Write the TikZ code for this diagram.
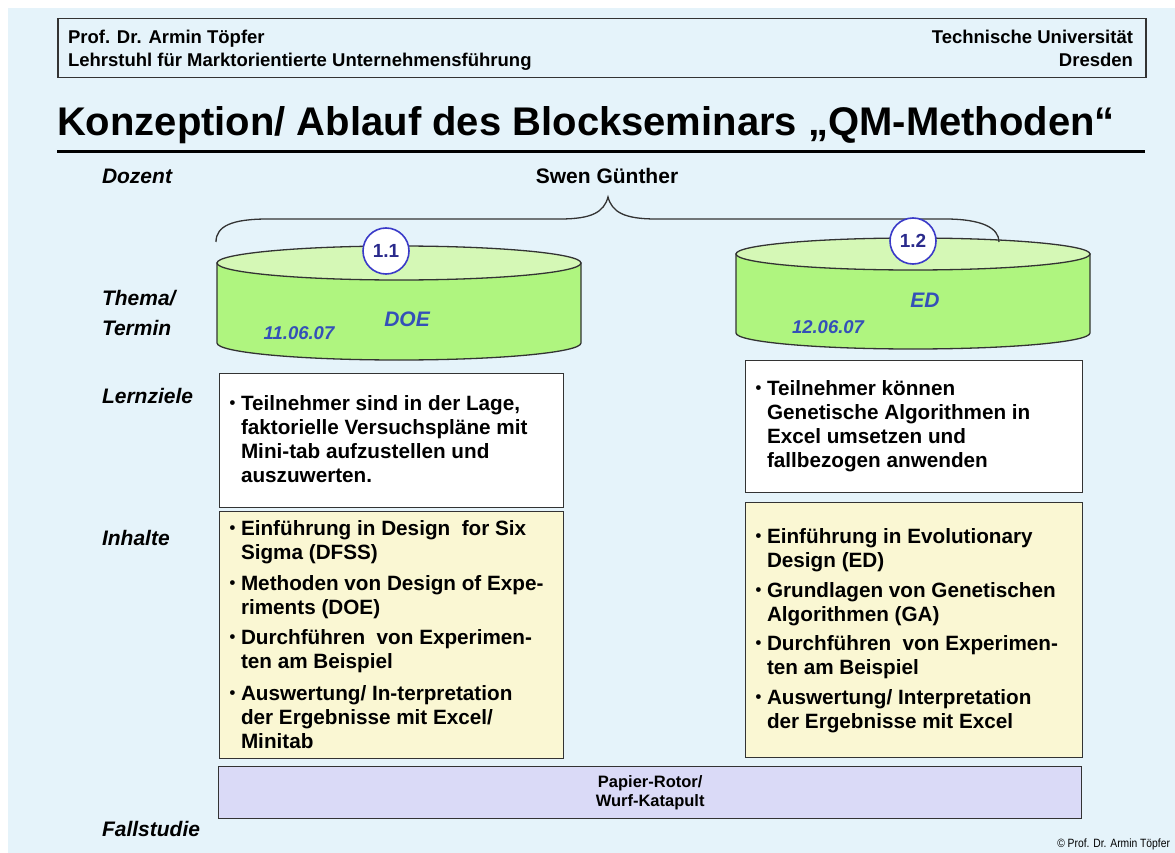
\documentclass[tikz,border=0pt]{standalone}
\usepackage{fontspec}
\setmainfont{Liberation Sans}
\definecolor{bgblue}{HTML}{E5F3FA}
\definecolor{cylbody}{HTML}{AFF57F}
\definecolor{cyltop}{HTML}{D5F8B6}
\definecolor{circblue}{HTML}{3A3AC8}
\definecolor{numblue}{HTML}{2A2A8C}
\definecolor{topicblue}{HTML}{3450B8}
\definecolor{boxyellow}{HTML}{FAF7D3}
\definecolor{boxlav}{HTML}{DADAF7}
\definecolor{linegray}{HTML}{333333}
\newcommand{\smbul}{\hspace{0.5pt}\raisebox{1.2pt}{\fontsize{16.5}{16.5}\selectfont\textbullet}}
\begin{document}
\begin{tikzpicture}[x=1pt,y=-1pt,
  txt/.style={inner sep=0pt, outer sep=0pt},
  hdr/.style={txt, font=\fontsize{18.5}{22}\bfseries\selectfont},
  rowlabel/.style={txt, anchor=base west, font=\fontsize{21}{25}\bfseries\itshape\selectfont},
  boxtext/.style={txt, anchor=base west, font=\fontsize{20.7}{24}\bfseries\selectfont},
  panel/.style={draw=linegray, line width=1.3pt, anchor=north west, inner sep=0pt},
  topic/.style={txt, text=topicblue, font=\fontsize{21}{25}\bfseries\itshape\selectfont},
  datum/.style={txt, text=topicblue, font=\fontsize{18.5}{22}\bfseries\itshape\selectfont},
  numcirc/.style={circle, draw=circblue, line width=1.6pt, fill=white, minimum size=46pt, inner sep=0pt, text=numblue, font=\fontsize{19}{21}\bfseries\selectfont},
  cyl/.style={draw=linegray, line width=1.3pt},
]
\useasboundingbox (0,0) rectangle (1175,853);
% background
\fill[white] (0,0) rectangle (1175,853);
\fill[bgblue] (8,8) rectangle (1175,853);

% header
\node[draw=linegray, line width=1.5pt, anchor=north west, minimum width=1088pt, minimum height=59pt, inner sep=0pt] (hbox) at (57,18) {};
\node[hdr, anchor=base west] (h1) at (68,44) {Prof. Dr. Armin Töpfer};
\node[hdr, anchor=base west] (h2) at (68,67) {Lehrstuhl für Marktorientierte Unternehmensführung};
\node[hdr, anchor=base east] (h3) at (1133,44) {Technische Universität};
\node[hdr, anchor=base east] (h4) at (1133,67) {Dresden};

% title
\node[txt, anchor=base west, font=\fontsize{40}{44}\bfseries\selectfont] (title) at (57,136) {Konzeption/ Ablauf des Blockseminars „QM-Methoden“};
\coordinate (ul1) at (57,152);
\coordinate (ul2) at (1145,152);
\draw[line width=3pt] (ul1) -- (ul2);

% row labels
\node[rowlabel] (lDozent) at (102,184) {Dozent};
\node[rowlabel] (lThema) at (102,305) {Thema/};
\node[rowlabel] (lTermin) at (102,335) {Termin};
\node[rowlabel] (lLern) at (102,403) {Lernziele};
\node[rowlabel] (lInh) at (102,545) {Inhalte};
\node[rowlabel] (lFall) at (102,836) {Fallstudie};

\node[txt, anchor=base, font=\fontsize{21}{25}\bfseries\selectfont] (swen) at (607,184) {Swen Günther};

% cylinder 1
\path[cyl, fill=cylbody] (217,263) -- (217,343)
  arc[start angle=180, end angle=360, x radius=182pt, y radius=17pt] -- (581,263) -- cycle;
\draw[cyl, fill=cyltop] (399,263) ellipse [x radius=182pt, y radius=17pt];
% cylinder 2
\path[cyl, fill=cylbody] (736,254) -- (736,333)
  arc[start angle=180, end angle=360, x radius=177pt, y radius=16pt] -- (1090,254) -- cycle;
\draw[cyl, fill=cyltop] (913,254) ellipse [x radius=177pt, y radius=16pt];

\node[topic] (doe) at (407,319) {DOE};
\node[datum] (d1) at (299,333) {11.06.07};
\node[topic] (ed) at (925,300) {ED};
\node[datum] (d2) at (828,327) {12.06.07};

% brace
\coordinate (bl) at (216,242);
\coordinate (bp) at (608,197);
\coordinate (br) at (999,242);
\draw[draw=linegray, line width=1.3pt]
  (bl) .. controls (216,226) and (232,219) .. (268,219) -- (560,219)
  .. controls (592,219) and (604,212) .. (bp)
  .. controls (612,212) and (624,219) .. (656,219) -- (945,219)
  .. controls (982,219) and (999,228) .. (br);

% number circles
\node[numcirc] (c11) at (386,251) {1.1};
\node[numcirc] (c12) at (913,241) {1.2};

% Lernziele boxes
\node[panel, fill=white, minimum width=344pt, minimum height=134pt] (lz1) at (219,373) {};
\node[panel, fill=white, minimum width=337pt, minimum height=132pt] (lz2) at (745,360) {};
% Inhalte boxes
\node[panel, fill=boxyellow, minimum width=344pt, minimum height=247pt] (in1) at (219,511) {};
\node[panel, fill=boxyellow, minimum width=337pt, minimum height=255pt] (in2) at (745,502) {};
% Fallstudie box
\node[panel, fill=boxlav, minimum width=863pt, minimum height=52pt] (fs) at (218,766) {};

% texts
\node[boxtext] (t1) at (229,410) {\begin{tabular}[t]{@{}p{12pt}@{}l@{}}
\smbul & Teilnehmer sind in der Lage,\\
 & faktorielle Versuchspläne mit\\
 & Mini-tab aufzustellen und\\
 & auszuwerten.
\end{tabular}};
\node[boxtext] (t2) at (229,535) {\begin{tabular}[t]{@{}p{12pt}@{}l@{}}
\smbul & Einführung in Design~ for Six\\
 & Sigma (DFSS)\\[7pt]
\smbul & Methoden von Design of Expe-\\
 & riments (DOE)\\[6pt]
\smbul & Durchführen~ von Experimen-\\
 & ten am Beispiel\\[8pt]
\smbul & Auswertung/ In-terpretation\\
 & der Ergebnisse mit Excel/\\
 & Minitab
\end{tabular}};
\node[boxtext] (t3) at (755,395) {\begin{tabular}[t]{@{}p{12pt}@{}l@{}}
\smbul & Teilnehmer können\\
 & Genetische Algorithmen in\\
 & Excel umsetzen und\\
 & fallbezogen anwenden
\end{tabular}};
\node[boxtext] (t4) at (755,543) {\begin{tabular}[t]{@{}p{12pt}@{}l@{}}
\smbul & Einführung in Evolutionary\\
 & Design (ED)\\[6pt]
\smbul & Grundlagen von Genetischen\\
 & Algorithmen (GA)\\[5pt]
\smbul & Durchführen~ von Experimen-\\
 & ten am Beispiel\\[6pt]
\smbul & Auswertung/ Interpretation\\
 & der Ergebnisse mit Excel
\end{tabular}};

\node[txt, align=center, font=\fontsize{16.5}{18.5}\bfseries\selectfont] (fstext) at (fs.center) {Papier-Rotor/\\Wurf-Katapult};

\node[txt, anchor=base east, font=\fontsize{12}{14}\selectfont] (copy) at (1170,847) {\scalebox{0.86}[1]{© Prof. Dr. Armin Töpfer}};
\end{tikzpicture}
\end{document}
